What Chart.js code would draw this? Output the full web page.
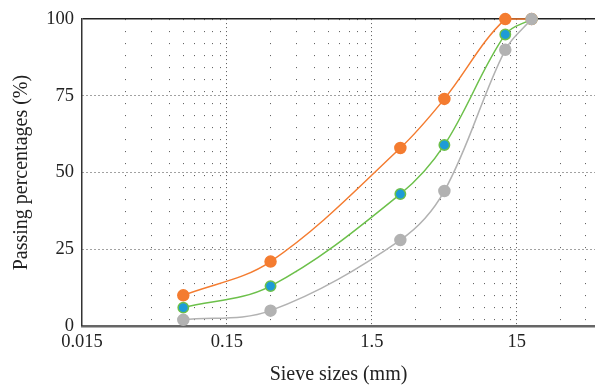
<!DOCTYPE html>
<html>
<head>
<meta charset="utf-8">
<script src="https://cdn.jsdelivr.net/npm/chart.js@4/dist/chart.umd.min.js"></script>
<style>
  html, body { margin: 0; padding: 0; background: #fff; }
  #wrap { width: 595px; height: 387px; position: relative; }
</style>
</head>
<body>
<div id="wrap"><canvas id="chart"></canvas></div>
<script>
// sieve sizes (mm) and passing percentages
const sieveSizes = [0.075, 0.3, 2.36, 4.75, 12.5, 19];
const upperPassing = [10, 21, 58, 74, 100, 100];
const midPassing = [6, 13, 43, 59, 95, 100];
const lowerPassing = [2, 5, 28, 44, 90, 100];

const xMajorTicks = [0.015, 0.15, 1.5, 15];
const yTicks = [0, 25, 50, 75, 100];

// minor ticks at 2..9 times each decade start
let xAllTicks = [];
xMajorTicks.forEach((m) => {
    for (let k = 1; k <= 9; k++) {
        let v = +(m * k).toPrecision(6);
        if (v <= 52) xAllTicks.push(v);
    }
});

const pts = (ys) => sieveSizes.map((x, i) => ({ x: x, y: ys[i] }));

const ctx = document.getElementById('chart').getContext('2d');
new Chart(ctx, {
    type: 'line',
    data: {
        datasets: [{
            label: 'Upper',
            data: pts(upperPassing),
            borderColor: '#f47c30',
            backgroundColor: '#f47c30',
            pointBackgroundColor: '#f47c30',
            pointBorderColor: '#f47c30',
            borderWidth: 1.5,
            pointRadius: 5.5,
            tension: 0.35,
            order: 3
        }, {
            label: 'Middle',
            data: pts(midPassing),
            borderColor: '#6cc04a',
            backgroundColor: '#1d9bd7',
            pointBackgroundColor: '#1d9bd7',
            pointBorderColor: '#6cc04a',
            pointBorderWidth: 1.5,
            borderWidth: 1.5,
            pointRadius: 5.2,
            tension: 0.35,
            order: 2
        }, {
            label: 'Lower',
            data: pts(lowerPassing),
            borderColor: '#b2b2b2',
            backgroundColor: '#b2b2b2',
            pointBackgroundColor: '#b2b2b2',
            pointBorderColor: '#b2b2b2',
            borderWidth: 1.5,
            pointRadius: 5.5,
            tension: 0.35,
            order: 1
        }]
    },
    options: {
        responsive: true,
        maintainAspectRatio: false,
        animation: false,
        clip: 8,
        layout: { autoPadding: false, padding: { left: 0, right: 0, top: 17, bottom: 0 } },
        plugins: { legend: { display: false }, tooltip: { enabled: false } },
        scales: {
            x: {
                type: 'logarithmic',
                min: 0.015,
                max: 52,
                afterBuildTicks: (scale) => {
                    scale.ticks = xAllTicks.map((v) => ({ value: v, major: xMajorTicks.includes(v) }));
                },
                afterFit: (scale) => {
                    scale.height = 61;
                    scale.paddingRight = 0;
                    scale.paddingLeft = 0;
                },
                ticks: {
                    autoSkip: false,
                    maxRotation: 0,
                    padding: 5,
                    color: '#222',
                    font: { family: 'Liberation Serif', size: 18.5 },
                    callback: (v) => xMajorTicks.includes(v) ? String(v) : ''
                },
                grid: {
                    drawTicks: false,
                    color: '#555',
                    lineWidth: (c) => (c.tick && c.tick.value === 0.015) ? 0 : 1
                },
                border: {
                    color: '#666',
                    width: 2.5,
                    dash: (c) => (c.tick && xMajorTicks.includes(c.tick.value)) ? [1, 3] : [1, 11]
                },
                title: {
                    display: true,
                    text: 'Sieve sizes (mm)',
                    color: '#222',
                    font: { family: 'Liberation Serif', size: 20 },
                    padding: { top: 2, bottom: 0 }
                }
            },
            y: {
                min: 0,
                max: 100,
                afterBuildTicks: (scale) => {
                    scale.ticks = yTicks.map((v) => ({ value: v }));
                },
                afterFit: (scale) => { scale.width = 82; },
                ticks: {
                    padding: 8,
                    color: '#222',
                    font: { family: 'Liberation Serif', size: 18.5 }
                },
                grid: {
                    drawTicks: false,
                    color: (c) => (c.tick && c.tick.value === 100) ? '#222' : '#444',
                    lineWidth: (c) => (c.tick && c.tick.value === 0) ? 0 : (c.tick && c.tick.value === 100 ? 1.5 : 1)
                },
                border: {
                    color: '#333',
                    width: 1.5,
                    dash: (c) => (c.tick && c.tick.value === 100) ? [] : [1, 3]
                },
                title: {
                    display: true,
                    text: 'Passing percentages (%)',
                    color: '#222',
                    font: { family: 'Liberation Serif', size: 20 },
                    padding: { top: 10, bottom: 0 }
                }
            }
        }
    }
});
</script>
</body>
</html>
